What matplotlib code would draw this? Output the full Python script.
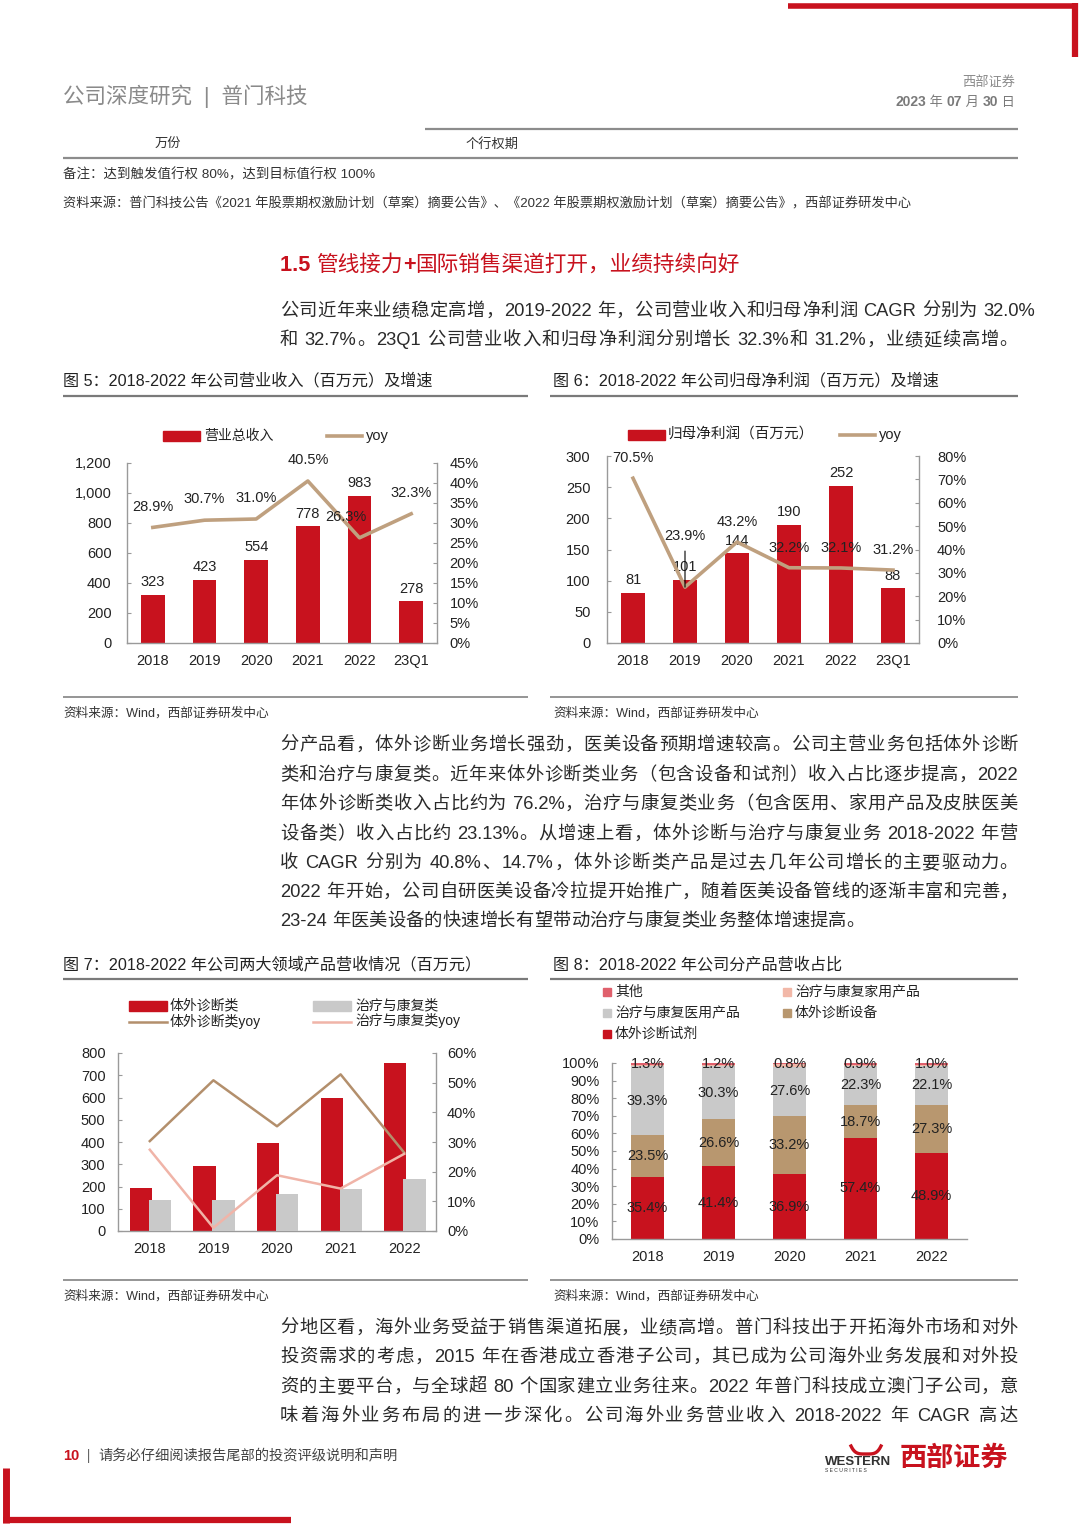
import re
import numpy as np
import matplotlib
matplotlib.use('Agg')
import matplotlib.pyplot as plt
from matplotlib.lines import Line2D
from matplotlib.patches import Rectangle
from matplotlib.ticker import FuncFormatter, MultipleLocator

# ---------------- data ----------------
cats_a = ['2018', '2019', '2020', '2021', '2022', '23Q1']
revenue = [323, 423, 554, 778, 983, 278]
revenue_yoy = [28.9, 30.7, 31.0, 40.5, 26.3, 32.3]
profit = [81, 101, 144, 190, 252, 88]
profit_yoy = [70.5, 23.9, 43.2, 32.2, 32.1, 31.2]

cats_b = ['2018', '2019', '2020', '2021', '2022']
ivd_rev = [195, 294, 394, 598, 755]
rehab_rev = [138, 141, 165, 189, 234]
ivd_yoy = [30.3, 50.8, 35.3, 52.8, 26.4]
rehab_yoy = [27.4, 1.1, 18.8, 14.3, 26.0]

share_reagent = [35.4, 41.4, 36.9, 57.4, 48.9]
share_equipment = [23.5, 26.6, 33.2, 18.7, 27.3]
share_medical = [39.3, 30.3, 27.6, 22.3, 22.1]
share_home = [0.5, 0.5, 1.5, 0.7, 0.7]
share_other = [1.3, 1.2, 0.8, 0.9, 1.0]

# ---------------- setup ----------------
W, H = 1080, 1526
plt.rcParams['font.family'] = ['Liberation Sans', 'Noto Sans CJK SC', 'DejaVu Sans']
RED = '#C8121E'
TAN = '#BFA07F'
GRAYTXT = '#333333'
SPINE = '#9a9a9a'

fig = plt.figure(figsize=(W / 100, H / 100), dpi=100)
fig.patch.set_facecolor('white')
renderer = fig.canvas.get_renderer()


def X(x):
    return x / W


def Y(y):
    return 1 - y / H


def txt(x, y, s, fs=10, color=GRAYTXT, ha='left', va='center', **kw):
    return fig.text(X(x), Y(y), s, fontsize=fs, color=color, ha=ha, va=va, **kw)


def hline(x0, x1, y, color='#8c8c8c', lw=1.2):
    fig.add_artist(Line2D([X(x0), X(x1)], [Y(y), Y(y)], color=color, lw=lw,
                          solid_capstyle='butt'))


def vline(x, y0, y1, color, lw):
    fig.add_artist(Line2D([X(x), X(x)], [Y(y0), Y(y1)], color=color, lw=lw,
                          solid_capstyle='butt'))


_wc = {}


def tw(s, fs, weight='normal'):
    key = (s, fs, weight)
    if key not in _wc:
        if s == ' ':
            w = tw('a a', fs, weight) - tw('aa', fs, weight)
        else:
            t = fig.text(0, 0, s, fontsize=fs, fontweight=weight)
            w = t.get_window_extent(renderer).width
            t.remove()
        _wc[key] = w
    return _wc[key]


def para_line(x0, x1, y, s, fs=13.2, color='#2a2a2a', justify=True):
    toks = re.findall(r'[\x21-\x7e]+| |[^\x00-\x7f]', s)
    widths = [tw(t, fs) for t in toks]
    total = sum(widths)
    gap = 0
    if justify and len(toks) > 1:
        gap = (x1 - x0 - total) / (len(toks) - 1)
        gap = max(gap, -1.0)
    x = x0
    base = y + 0.38 * fs * 100 / 72
    for t, w in zip(toks, widths):
        if t != ' ':
            fig.text(X(x), Y(base), t, fontsize=fs, color=color, ha='left', va='baseline')
        x += w + gap


def seq(x, y, parts, ha='left'):
    total = sum(tw(s, fs, wt) for s, fs, wt, c in parts)
    if ha == 'right':
        x = x - total
    for s, fs, wt, c in parts:
        fig.text(X(x), Y(y), s, fontsize=fs, fontweight=wt, color=c, ha='left', va='baseline')
        x += tw(s, fs, wt)


def make_axes(l, t, r, b):
    return fig.add_axes([X(l), Y(b), (r - l) / W, (b - t) / H])


def style_spines(ax, visible):
    for name, sp in ax.spines.items():
        sp.set_visible(name in visible)
        sp.set_color(SPINE)
        sp.set_linewidth(1.0)


# ---------------- page decorations ----------------
hline(788, 1078, 5.5, RED, 4)
vline(1075, 3, 57, RED, 4.5)
vline(6, 1468, 1523, RED, 5)
hline(3, 291, 1520, RED, 4.5)

txt(63, 96, '公司深度研究  |  普门科技', fs=15.5, color='#8a8a8a')
txt(1015, 82, '西部证券', fs=9.5, color='#8a8a8a', ha='right')
seq(1015, 106, [('2023', 10, 'bold', '#7a7a7a'), (' 年 ', 9.5, 'normal', '#7a7a7a'),
                ('07', 10, 'bold', '#7a7a7a'), (' 月 ', 9.5, 'normal', '#7a7a7a'),
                ('30', 10, 'bold', '#7a7a7a'), (' 日', 9.5, 'normal', '#7a7a7a')], ha='right')

hline(425, 1018, 129, '#8c8c8c', 1.6)
txt(155, 144, '万份', fs=9.5, color='#333333')
txt(466, 144, '个行权期', fs=9.5, color='#333333')
hline(63, 1018, 158, '#8c8c8c', 1.6)
txt(63, 175, '备注：达到触发值行权 80%，达到目标值行权 100%', fs=9.7, color='#333333')
txt(63, 204, '资料来源：普门科技公告《2021 年股票期权激励计划（草案）摘要公告》、《2022 年股票期权激励计划（草案）摘要公告》，西部证券研发中心',
    fs=9.5, color='#333333')

seq(280, 271, [('1.5 ', 15.6, 'bold', RED), ('管线接力', 15.6, 'normal', RED), ('+', 15.6, 'bold', RED),
               ('国际销售渠道打开，业绩持续向好', 15.6, 'normal', RED)])

para_line(280, 1035, 309, '公司近年来业绩稳定高增，2019-2022 年，公司营业收入和归母净利润 CAGR 分别为 32.0%')
para_line(280, 1018, 338, '和 32.7%。23Q1 公司营业收入和归母净利润分别增长 32.3%和 31.2%，业绩延续高增。')

# figure titles
TFS = 11.6
SFS = 9.1
txt(63, 381, '图 5：2018-2022 年公司营业收入（百万元）及增速', fs=TFS, color='#222222')
txt(553, 381, '图 6：2018-2022 年公司归母净利润（百万元）及增速', fs=TFS, color='#222222')
hline(63, 528, 396, '#7a7a7a', 1.6)
hline(550, 1018, 396, '#7a7a7a', 1.6)
hline(63, 528, 697, '#8c8c8c', 1.3)
hline(550, 1018, 697, '#8c8c8c', 1.3)
txt(63, 713, '资料来源：Wind，西部证券研发中心', fs=SFS, color='#333333')
txt(553, 713, '资料来源：Wind，西部证券研发中心', fs=SFS, color='#333333')

p2 = ['分产品看，体外诊断业务增长强劲，医美设备预期增速较高。公司主营业务包括体外诊断',
      '类和治疗与康复类。近年来体外诊断类业务（包含设备和试剂）收入占比逐步提高，2022',
      '年体外诊断类收入占比约为 76.2%，治疗与康复类业务（包含医用、家用产品及皮肤医美',
      '设备类）收入占比约 23.13%。从增速上看，体外诊断与治疗与康复业务 2018-2022 年营',
      '收 CAGR 分别为 40.8%、14.7%，体外诊断类产品是过去几年公司增长的主要驱动力。',
      '2022 年开始，公司自研医美设备冷拉提开始推广，随着医美设备管线的逐渐丰富和完善，',
      '23-24 年医美设备的快速增长有望带动治疗与康复类业务整体增速提高。']
p2y = [743, 773, 802, 832, 861, 890, 919]
for i, (s, yy) in enumerate(zip(p2, p2y)):
    para_line(280, 1018, yy, s, justify=(i < len(p2) - 1))

txt(63, 964, '图 7：2018-2022 年公司两大领域产品营收情况（百万元）', fs=TFS, color='#222222')
txt(553, 964, '图 8：2018-2022 年公司分产品营收占比', fs=TFS, color='#222222')
hline(63, 528, 979, '#7a7a7a', 1.6)
hline(550, 1018, 979, '#7a7a7a', 1.6)
hline(63, 528, 1280, '#8c8c8c', 1.3)
hline(550, 1018, 1280, '#8c8c8c', 1.3)
txt(63, 1296, '资料来源：Wind，西部证券研发中心', fs=SFS, color='#333333')
txt(553, 1296, '资料来源：Wind，西部证券研发中心', fs=SFS, color='#333333')

p3 = ['分地区看，海外业务受益于销售渠道拓展，业绩高增。普门科技出于开拓海外市场和对外',
      '投资需求的考虑，2015 年在香港成立香港子公司，其已成为公司海外业务发展和对外投',
      '资的主要平台，与全球超 80 个国家建立业务往来。2022 年普门科技成立澳门子公司，意',
      '味着海外业务布局的进一步深化。公司海外业务营业收入 2018-2022 年 CAGR 高达']
for s, yy in zip(p3, [1326, 1355, 1385, 1414]):
    para_line(280, 1018, yy, s)

# footer
seq(63, 1460, [('10', 10.5, 'bold', RED), ('  |  ', 10, 'normal', '#666666'),
               ('请务必仔细阅读报告尾部的投资评级说明和声明', 10.3, 'normal', '#444444')])
txt(825, 1462, 'WESTERN', fs=9.5, color='#333333', fontweight='bold')
txt(825, 1470, 'S E C U R I T I E S', fs=3.6, color='#333333')
txt(900, 1459, '西部证券', fs=19.5, color=RED, fontweight='bold')
hx = np.linspace(-1, 1, 30)
fig.add_artist(Line2D(X(866 + 15 * hx), Y(1452 - 8 * hx ** 4 + 2), color=RED, lw=2.4))

TICK_FS = 10.5
LAB_FS = 10.5

# ---------------- chart 5 ----------------
ax = make_axes(127, 463, 437, 643)
x = np.arange(len(cats_a))
ax.bar(x, revenue, width=0.46, color=RED, zorder=2)
ax.set_xlim(-0.5, len(cats_a) - 0.5)
ax.set_ylim(0, 1200)
ax.yaxis.set_major_locator(MultipleLocator(200))
ax.yaxis.set_major_formatter(FuncFormatter(lambda v, p: f'{v:,.0f}'))
ax.set_xticks(x, cats_a)
style_spines(ax, ('left', 'bottom'))
ax.tick_params(axis='y', direction='in', length=3, color=SPINE, labelsize=TICK_FS, pad=11, labelcolor='#222')
ax.tick_params(axis='x', length=0, labelsize=TICK_FS, pad=8, labelcolor='#222')
for i, v in enumerate(revenue):
    ax.annotate(f'{v}', (i, v), xytext=(0, 4), textcoords='offset points', ha='center', va='bottom',
                fontsize=LAB_FS, color='#222')
ax2 = ax.twinx()
ax2.plot(x, revenue_yoy, color=TAN, lw=2.6, zorder=3)
ax2.set_ylim(0, 45)
ax2.yaxis.set_major_locator(MultipleLocator(5))
ax2.yaxis.set_major_formatter(FuncFormatter(lambda v, p: f'{v:.0f}%'))
style_spines(ax2, ('right',))
ax2.tick_params(axis='y', direction='in', length=3, color=SPINE, labelsize=TICK_FS, pad=9, labelcolor='#222')
offs5 = [(0, 15), (0, 15), (0, 15), (0, 15), (-10, 15), (0, 15)]
for i, (v, o) in enumerate(zip(revenue_yoy, offs5)):
    ax2.annotate(f'{v:.1f}%', (i, v), xytext=o, textcoords='offset points', ha='center', va='center',
                 fontsize=LAB_FS, color='#222')
# legend 5
fig.add_artist(Rectangle((X(163), Y(441)), 37 / W, 10 / H, color=RED))
txt(204, 436, '营业总收入', fs=10, color='#222')
fig.add_artist(Line2D([X(327), X(362)], [Y(436), Y(436)], color=TAN, lw=2.6))
txt(366, 436, 'yoy', fs=10.5, color='#222')

# ---------------- chart 6 ----------------
ax = make_axes(607, 456, 919, 643)
ax.bar(x, profit, width=0.46, color=RED, zorder=2)
ax.set_xlim(-0.5, len(cats_a) - 0.5)
ax.set_ylim(0, 300)
ax.yaxis.set_major_locator(MultipleLocator(50))
ax.set_xticks(x, cats_a)
style_spines(ax, ('left', 'bottom'))
ax.tick_params(axis='y', direction='in', length=3, color=SPINE, labelsize=TICK_FS, pad=12, labelcolor='#222')
ax.tick_params(axis='x', length=0, labelsize=TICK_FS, pad=8, labelcolor='#222')
for i, v in enumerate(profit):
    ax.annotate(f'{v}', (i, v), xytext=(0, 4), textcoords='offset points', ha='center', va='bottom',
                fontsize=LAB_FS, color='#222')
ax2 = ax.twinx()
ax2.plot(x, profit_yoy, color=TAN, lw=2.6, zorder=3)
ax2.set_ylim(0, 80)
ax2.yaxis.set_major_locator(MultipleLocator(10))
ax2.yaxis.set_major_formatter(FuncFormatter(lambda v, p: f'{v:.0f}%'))
style_spines(ax2, ('right',))
ax2.tick_params(axis='y', direction='in', length=3, color=SPINE, labelsize=TICK_FS, pad=13, labelcolor='#222')
for i, v in enumerate(profit_yoy):
    if i == 1:
        ax2.annotate(f'{v:.1f}%', (i, v), xytext=(0, 37), textcoords='offset points', ha='center',
                     va='center', fontsize=LAB_FS, color='#222',
                     arrowprops=dict(arrowstyle='-', color='black', lw=0.8, shrinkA=4, shrinkB=0))
    else:
        ax2.annotate(f'{v:.1f}%', (i, v), xytext=(0, 14.5), textcoords='offset points', ha='center',
                     va='center', fontsize=LAB_FS, color='#222')
fig.add_artist(Rectangle((X(628), Y(440)), 37 / W, 10 / H, color=RED))
txt(668, 435, '归母净利润（百万元）', fs=10.5, color='#222')
fig.add_artist(Line2D([X(840), X(875)], [Y(435), Y(435)], color=TAN, lw=2.6))
txt(879, 435, 'yoy', fs=10.5, color='#222')

# ---------------- chart 7 ----------------
ax = make_axes(118, 1053, 436, 1231)
xb = np.arange(len(cats_b))
ax.bar(xb - 0.14, ivd_rev, width=0.35, color=RED, zorder=2)
ax.bar(xb + 0.16, rehab_rev, width=0.35, color='#C9C9C9', zorder=3)
ax.set_xlim(-0.5, len(cats_b) - 0.5)
ax.set_ylim(0, 800)
ax.yaxis.set_major_locator(MultipleLocator(100))
ax.set_xticks(xb, cats_b)
style_spines(ax, ('left', 'bottom'))
ax.tick_params(axis='y', direction='in', length=3, color=SPINE, labelsize=TICK_FS, pad=9, labelcolor='#222')
ax.tick_params(axis='x', length=0, labelsize=TICK_FS, pad=8, labelcolor='#222')
ax2 = ax.twinx()
ax2.plot(xb, ivd_yoy, color='#B38F6C', lw=1.8, zorder=4)
ax2.plot(xb, rehab_yoy, color='#F0B4A8', lw=1.8, zorder=4)
ax2.set_ylim(0, 60)
ax2.yaxis.set_major_locator(MultipleLocator(10))
ax2.yaxis.set_major_formatter(FuncFormatter(lambda v, p: f'{v:.0f}%'))
style_spines(ax2, ('right',))
ax2.tick_params(axis='y', direction='in', length=3, color=SPINE, labelsize=TICK_FS, pad=8, labelcolor='#222')
fig.add_artist(Rectangle((X(129), Y(1011)), 38 / W, 10 / H, color=RED))
txt(170, 1005, '体外诊断类', fs=10, color='#222')
fig.add_artist(Rectangle((X(313), Y(1011)), 38 / W, 10 / H, color='#C9C9C9'))
txt(355, 1005, '治疗与康复类', fs=10, color='#222')
fig.add_artist(Line2D([X(129), X(167)], [Y(1022), Y(1022)], color='#B38F6C', lw=1.8))
txt(170, 1021, '体外诊断类yoy', fs=10, color='#222')
fig.add_artist(Line2D([X(313), X(351)], [Y(1022), Y(1022)], color='#F0B4A8', lw=1.8))
txt(355, 1021, '治疗与康复类yoy', fs=10, color='#222')

# ---------------- chart 8 ----------------
ax = make_axes(612, 1063, 967, 1239)
series = [('体外诊断试剂', share_reagent, RED, True),
          ('体外诊断设备', share_equipment, '#B8976F', True),
          ('治疗与康复医用产品', share_medical, '#C9C9C9', True),
          ('治疗与康复家用产品', share_home, '#F2B8A8', False),
          ('其他', share_other, '#E0606C', True)]
bottom = np.zeros(len(cats_b))
for name, vals, col, lab in series:
    vals = np.array(vals)
    ax.bar(xb, vals, width=0.47, bottom=bottom, color=col, zorder=2)
    if lab:
        for i, v in enumerate(vals):
            ax.text(i, bottom[i] + v / 2, f'{v:.1f}%', ha='center', va='center', fontsize=LAB_FS,
                    color='#222', zorder=5)
    bottom = bottom + vals
ax.set_xlim(-0.5, len(cats_b) - 0.5)
ax.set_ylim(0, 100)
ax.yaxis.set_major_locator(MultipleLocator(10))
ax.yaxis.set_major_formatter(FuncFormatter(lambda v, p: f'{v:.0f}%'))
ax.set_xticks(xb, cats_b)
style_spines(ax, ('left', 'bottom'))
ax.tick_params(axis='y', direction='in', length=3, color=SPINE, labelsize=TICK_FS, pad=9, labelcolor='#222')
ax.tick_params(axis='x', length=0, labelsize=TICK_FS, pad=8, labelcolor='#222')
leg8 = [(603, 992, '其他', '#E0606C'), (783, 992, '治疗与康复家用产品', '#F2B8A8'),
        (603, 1013, '治疗与康复医用产品', '#C9C9C9'), (783, 1013, '体外诊断设备', '#B8976F'),
        (603, 1034, '体外诊断试剂', RED)]
for lx, ly, s, c in leg8:
    fig.add_artist(Rectangle((X(lx), Y(ly + 4)), 8 / W, 8 / H, color=c))
    txt(lx + 12, ly, s, fs=10, color='#222')

fig.savefig('out.png', dpi=100, facecolor='white')
